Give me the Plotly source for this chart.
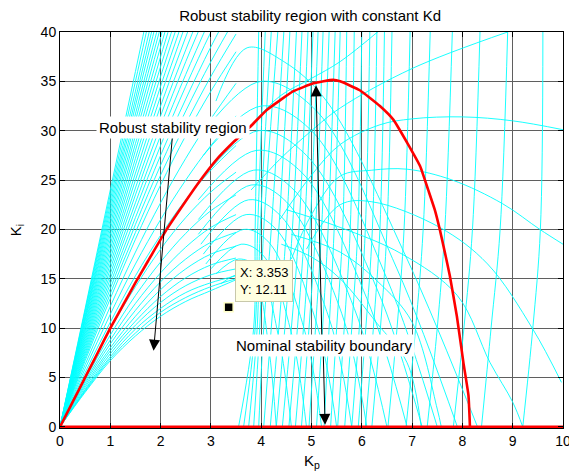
import plotly.graph_objects as go

# ---------------- data ----------------
# nominal (red) stability boundary
RED_X = [0, 0.25, 0.5, 0.75, 1.0, 1.25, 1.5, 1.75, 2.12, 2.45, 2.78, 3.1, 3.44, 3.78, 4.11, 4.38, 4.64,
         5.04, 5.43, 5.57, 5.96, 6.36, 6.63, 6.9, 7.16, 7.32, 7.45, 7.55, 7.65, 7.75, 7.89, 8.02, 8.12, 8.15]
RED_Y = [0, 2.5, 5.0, 7.5, 10.0, 12.3, 14.6, 16.8, 20.0, 22.5, 24.9, 27.0, 28.8, 30.4, 32.1, 33.1, 34.0,
         34.8, 35.15, 35.0, 34.1, 32.5, 31.1, 28.8, 26.4, 24.0, 22.0, 20.0, 17.7, 15.3, 11.2, 6.5, 3.2, 0.0]
RED_AXIS_X = [0, 10]
RED_AXIS_Y = [0, 0]

# family of vertex-plant boundaries starting at the origin (y at FAN_X)
FAN_X = [0, 0.5, 1.0, 1.5, 2.0, 2.5, 3.0, 3.5]
FAN_Y = [
    [0, 12.0, 24.0, 36.0, 48.0],
    [0, 11.8, 23.5, 35.0, 46.5],
    [0, 11.6, 23.0, 34.0, 45.0],
    [0, 11.3, 22.5, 33.2, 43.8],
    [0, 11.1, 22.0, 32.5, 42.7],
    [0, 10.9, 21.5, 31.7, 41.5],
    [0, 10.7, 21.0, 31.0, 40.5, 49.5],
    [0, 10.4, 20.5, 30.2, 39.5, 48.0],
    [0, 10.2, 20.0, 29.5, 38.5, 47.0],
    [0, 9.95, 19.5, 28.7, 37.5, 45.8],
    [0, 9.7, 19.0, 28.0, 36.5, 44.5],
    [0, 9.45, 18.5, 27.2, 35.5, 43.2],
    [0, 9.2, 18.0, 26.5, 34.5, 42.0],
    [0, 8.95, 17.5, 25.7, 33.5, 40.8],
    [0, 8.7, 17.0, 25.0, 32.5, 39.5, 46.0],
    [0, 8.45, 16.5, 24.2, 31.5, 38.2, 44.5],
    [0, 8.2, 16.0, 23.5, 30.5, 37.0, 43.0],
    [0, 7.95, 15.5, 22.7, 29.5, 35.7, 41.5],
    [0, 7.7, 15.0, 22.0, 28.5, 34.5, 40.0, 45.0],
    [0, 7.45, 14.5, 21.2, 27.5, 33.2, 38.5, 43.3],
    [0, 7.2, 14.0, 20.5, 26.5, 32.0, 37.0, 41.5],
    [0, 6.95, 13.5, 19.7, 25.5, 30.7, 35.5, 39.8],
    [0, 6.7, 13.0, 19.0, 24.5, 29.5, 34.0, 38.0],
    [0, 6.3, 12.2, 17.7, 22.7, 27.2, 31.2, 34.8],
    [0, 5.9, 11.4, 16.5, 21.0, 25.0, 28.5, 31.5],
    [0, 5.5, 10.6, 15.3, 19.4, 23.0, 26.0, 28.5],
    [0, 5.1, 9.9, 14.2, 18.0, 21.2, 23.8, 25.8],
    [0, 4.8, 9.3, 13.3, 16.7, 19.6, 21.9, 23.5],
    [0, 4.6, 8.8, 12.5, 15.6, 18.2, 20.2, 21.5],
    [0, 4.4, 8.4, 11.8, 14.7, 17.0, 18.7, 19.7],
    [0, 4.2, 8.0, 11.2, 13.9, 16.0, 17.5, 18.3],
    [0, 4.0, 7.7, 10.7, 13.2, 15.1, 16.4, 17.1],
    [0, 3.8, 7.4, 10.3, 12.6, 14.3, 15.4, 16.0],
    [0, 3.7, 7.1, 9.9, 12.0, 13.6, 14.6, 15.3],
    [0, 3.6, 6.9, 9.5, 11.6, 13.1, 14.2, 15.0],
    [0, 3.5, 6.7, 9.2, 11.2, 12.7, 13.8, 14.9],
]

# dome-shaped parts of the boundaries around Kp ~ 3.7
DOME_X = [
    [3.2, 3.6, 3.9, 4.15, 4.3],
    [3.1, 3.55, 3.95, 4.35, 4.6],
    [3.0, 3.6, 4.05, 4.6, 4.9],
    [2.9, 3.65, 4.15, 4.85, 5.2],
    [2.85, 3.7, 4.3, 5.1, 5.5],
    [2.8, 3.75, 4.4, 5.35, 5.8],
    [2.75, 3.8, 4.5, 5.6, 6.1],
    [2.75, 3.85, 4.65, 5.85, 6.5],
    [2.75, 3.9, 4.8, 6.1, 6.9],
    [2.8, 3.95, 4.9, 6.3, 7.2],
    [2.85, 4.0, 5.0, 6.5, 7.5],
    [2.95, 4.0, 5.1, 6.7, 7.9],
    [3.1, 3.72, 4.45, 5.3, 6.9, 8.3],
]
DOME_Y = [
    [14.5, 15.5, 14.5, 8.0, 0],
    [15.5, 17.0, 16.0, 9.0, 0],
    [16.0, 18.5, 17.3, 9.5, 0],
    [16.5, 20.0, 18.7, 10.0, 0],
    [17.5, 21.5, 20.0, 10.5, 0],
    [18.5, 23.0, 21.3, 11.0, 0],
    [19.5, 24.5, 22.8, 11.5, 0],
    [21.0, 26.0, 24.0, 12.0, 0],
    [23.0, 28.0, 25.8, 13.0, 0],
    [25.0, 30.0, 27.5, 14.0, 0],
    [27.5, 32.5, 30.0, 15.0, 0],
    [30.5, 35.0, 32.0, 16.0, 0],
    [33.0, 38.4, 37.0, 33.0, 17.0, 0],
]

# near-vertical branches: Kp where each crosses Ki = VERT_LEVELS
VERT_LEVELS = [0, 10, 20, 40]
VERT_X0 = [3.55, 3.65, 3.75, 3.85, 3.95, 4.05, 4.18, 4.3, 4.42, 4.55, 4.68, 4.8, 4.95, 5.1, 5.25,
           5.38, 5.52, 5.66, 5.8, 5.93, 6.07, 6.2, 6.52, 6.88, 7.3, 7.82, 8.38, 9.2]
VERT_X10 = [3.85, 3.88, 3.92, 3.97, 4.05, 4.2, 4.35, 4.47, 4.6, 4.72, 4.84, 4.95, 5.08, 5.22, 5.35,
            5.5, 5.65, 5.8, 5.95, 6.08, 6.23, 6.37, 6.7, 7.07, 7.5, 8.03, 8.57, 9.4]
VERT_X20 = [3.88, 3.93, 3.98, 4.05, 4.2, 4.35, 4.5, 4.62, 4.75, 4.86, 4.97, 5.08, 5.2, 5.33, 5.45,
            5.62, 5.77, 5.92, 6.07, 6.21, 6.36, 6.5, 6.84, 7.22, 7.65, 8.2, 8.75, 9.55]
VERT_X40 = [3.95, 4.08, 4.2, 4.33, 4.45, 4.57, 4.7, 4.81, 4.93, 5.03, 5.13, 5.23, 5.35, 5.47, 5.57,
            5.7, 5.85, 6.0, 6.16, 6.3, 6.45, 6.6, 6.96, 7.36, 7.8, 8.35, 8.9, 9.6]

# wide arcs on the right-hand side
ARC_X = [
    [3.8, 4.37, 5.0, 5.57, 6.36],
    [3.8, 4.37, 5.0, 5.57, 7.0, 8.9],
    [4.37, 5.0, 5.57, 6.36, 7.0, 8.0, 9.0, 10.0],
    [4.6, 5.0, 5.57, 6.2, 6.9, 7.8, 8.8, 9.54, 10.0],
    [4.9, 5.57, 6.2, 7.55, 8.5, 9.4, 9.97],
    [4.5, 5.57, 6.8, 7.9, 8.55, 9.0, 9.2],
    [4.6, 5.57, 6.3, 7.0, 7.5, 7.58],
    [4.4, 5.0, 5.57, 6.3, 6.9, 7.18],
]
ARC_Y = [
    [30.5, 33.5, 35.3, 37.0, 40.2],
    [24.0, 27.1, 30.0, 32.3, 36.3, 40.0],
    [21.0, 25.5, 28.6, 30.6, 31.2, 31.4, 31.0, 30.1],
    [17.0, 21.5, 25.4, 26.0, 26.1, 25.0, 22.6, 20.0, 18.5],
    [18.0, 22.5, 22.8, 20.2, 16.5, 9.9, 4.5],
    [22.0, 20.2, 17.5, 13.3, 6.5, 2.5, 0],
    [19.5, 17.7, 14.8, 10.6, 1.8, 0],
    [18.5, 17.2, 15.0, 10.5, 6.5, 0],
]

DATATIP_X = [3.353]
DATATIP_Y = [12.11]

X_TICKS = list(range(0, 11))
Y_TICKS = [0, 5, 10, 15, 20, 25, 30, 35, 40]

TITLE = "Robust stability region with constant Kd"
LABEL_ROBUST = "Robust stability region"
LABEL_NOMINAL = "Nominal stability boundary"

# ---------------- figure ----------------
CYAN = "rgb(0,255,255)"
FONT = "Liberation Sans, Arial, Helvetica, sans-serif"

def join(xs_list, ys_list):
    X, Y = [], []
    for xs, ys in zip(xs_list, ys_list):
        X += list(xs) + [None]
        Y += list(ys) + [None]
    return X, Y

fig = go.Figure()

fx, fy = join([FAN_X[:len(r)] for r in FAN_Y], FAN_Y)
dx, dy = join(DOME_X, DOME_Y)
vx, vy = join([list(t) for t in zip(VERT_X0, VERT_X10, VERT_X20, VERT_X40)],
              [VERT_LEVELS] * len(VERT_X0))
ax_, ay_ = join(ARC_X, ARC_Y)

for xx, yy in [(fx, fy), (dx, dy), (vx, vy), (ax_, ay_)]:
    fig.add_trace(go.Scatter(x=xx, y=yy, mode="lines",
                             line=dict(color=CYAN, width=0.9, shape="spline", smoothing=1.0),
                             hoverinfo="skip", showlegend=False))

fig.add_trace(go.Scatter(x=RED_X, y=RED_Y, mode="lines",
                         line=dict(color="red", width=2.6, shape="spline", smoothing=0.4),
                         showlegend=False))
fig.add_trace(go.Scatter(x=RED_AXIS_X, y=RED_AXIS_Y, mode="lines",
                         line=dict(color="red", width=2.6), showlegend=False))
fig.add_trace(go.Scatter(x=DATATIP_X, y=DATATIP_Y, mode="markers",
                         marker=dict(symbol="square", size=9, color="black",
                                     line=dict(color="rgb(255,255,200)", width=1.5)),
                         showlegend=False))

ARW = dict(showarrow=True, arrowhead=2, arrowsize=2.2, arrowwidth=1, arrowcolor="black",
           xref="x", yref="y", axref="x", ayref="y", text="")
annots = []
# arrows (drawn first so text boxes can cover their tails)
annots.append(dict(x=1.86, y=7.7, ax=2.25, ay=30.3, **ARW))
annots.append(dict(x=5.09, y=34.6, ax=5.21, ay=8.2, **ARW))
annots.append(dict(x=5.27, y=0.2, ax=5.23, ay=8.2, **ARW))
# text boxes
annots.append(dict(x=2.25, y=30.3, xref="x", yref="y", text=LABEL_ROBUST, showarrow=False,
                   bgcolor="white", borderpad=2, font=dict(size=15, color="black", family=FONT)))
annots.append(dict(x=5.25, y=8.2, xref="x", yref="y", text=LABEL_NOMINAL, showarrow=False,
                   bgcolor="white", borderpad=2, font=dict(size=15, color="black", family=FONT)))
annots.append(dict(x=4.06, y=14.75, xref="x", yref="y",
                   text="X: %.3f<br>Y: %.2f" % (DATATIP_X[0], DATATIP_Y[0]),
                   showarrow=False, align="left", bgcolor="rgb(255,255,225)",
                   bordercolor="rgb(200,200,170)", borderwidth=1, borderpad=4,
                   font=dict(size=13, color="black", family=FONT)))
# axis labels
annots.append(dict(x=0.5, y=-0.056, xref="paper", yref="paper", text="K<sub>p</sub>",
                   xanchor="center", yanchor="top",
                   showarrow=False, font=dict(size=15, color="black", family=FONT)))
annots.append(dict(x=-0.087, y=0.5, xref="paper", yref="paper", text="K<sub>i</sub>", textangle=-90,
                   xanchor="center", yanchor="middle",
                   showarrow=False, font=dict(size=15, color="black", family=FONT)))

axis_common = dict(showgrid=True, gridcolor="rgb(95,95,95)", gridwidth=1,
                   zeroline=False, showline=True, linecolor="black", linewidth=1,
                   mirror="allticks", ticks="inside", ticklen=5, tickcolor="black",
                   ticklabeloverflow="allow", automargin=False,
                   tickfont=dict(size=14, color="black", family=FONT))

fig.update_layout(
    width=569, height=474, autosize=False,
    margin=dict(l=60, r=6, t=32, b=46),
    paper_bgcolor="white", plot_bgcolor="white",
    title=dict(text=TITLE, x=0.545, xanchor="center", y=0.966, yanchor="middle",
               font=dict(size=15, color="black", family=FONT)),
    xaxis=dict(range=[0, 10], tickvals=X_TICKS, **axis_common),
    yaxis=dict(range=[-0.12, 40], tickvals=Y_TICKS, **axis_common),
    annotations=annots,
    showlegend=False,
)

fig.write_html("out.html", config={"displayModeBar": False, "responsive": False},
               post_script="document.body.style.margin='0';"
                           "document.body.style.overflow='hidden';"
                           "document.documentElement.style.overflow='hidden';")
